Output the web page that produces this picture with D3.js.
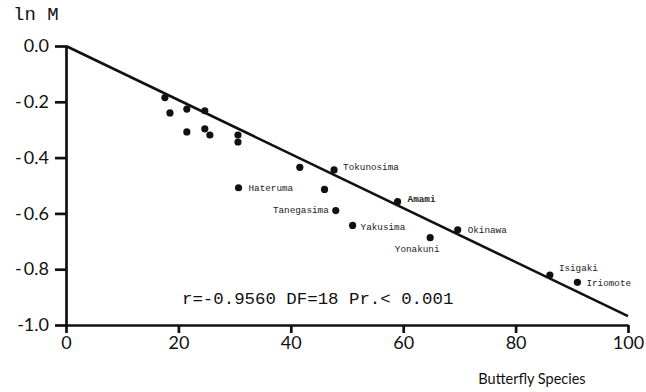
<!DOCTYPE html>
<html>
<head>
<meta charset="utf-8">
<script src="https://cdn.jsdelivr.net/npm/d3@7"></script>
<style>
  body { margin: 0; background: #fff; }
  svg { display: block; }
</style>
</head>
<body>
<svg></svg>
<script>
// data
const islands = ['', '', '', '', '', '', '', '', '', '', 'Tokunosima', 'Hateruma', '', 'Tanegasima', 'Yakusima', 'Amami', 'Yonakuni', 'Okinawa', 'Isigaki', 'Iriomote']
const species = [17.6, 18.5, 21.5, 21.5, 24.7, 24.7, 25.6, 30.6, 30.6, 41.6, 47.7, 30.7, 46.0, 48.0, 51.0, 59.0, 64.8, 69.7, 86.1, 91.0]
const lnM = [-0.185, -0.240, -0.226, -0.308, -0.232, -0.297, -0.319, -0.319, -0.344, -0.435, -0.444, -0.508, -0.514, -0.590, -0.643, -0.558, -0.687, -0.659, -0.821, -0.847]
const fitX = [0, 100]
const fitY = [0, -0.968]
const xTicks = [0, 20, 40, 60, 80, 100]
const yTicks = [0, -0.2, -0.4, -0.6, -0.8, -1.0]
const yTickLabels = ['0.0', '-\u20090.2', '-\u20090.4', '-\u20090.6', '-\u20090.8', '-1.0']
const statText = 'r=-0.9560 DF=18 Pr.< 0.001'

// label offsets next to the dot: [dx, dy, anchor]
const labelPos = {
    Tokunosima: [9, -3, 'start'],
    Hateruma: [10, 0, 'start'],
    Tanegasima: [-7, -1, 'end'],
    Yakusima: [8, 1, 'start'],
    Amami: [10, -3, 'start'],
    Yonakuni: [-13, 11, 'middle'],
    Okinawa: [10, 0, 'start'],
    Isigaki: [9, -7, 'start'],
    Iriomote: [9, 0, 'start']
}

const width = 646
const height = 392

let svg = d3.select('svg').attr('width', width).attr('height', height)

let xScale = d3.scaleLinear().domain([0, 100]).range([66, 628])
let yScale = d3.scaleLinear().domain([0, -1]).range([46, 325])

// axes
let xAxis = d3.axisBottom(xScale).tickValues(xTicks).tickSize(8).tickSizeOuter(0).tickPadding(2)
let yAxis = d3.axisLeft(yScale).tickValues(yTicks).tickSize(11).tickSizeOuter(0).tickPadding(6)
    .tickFormat((d, i) => yTickLabels[i])

let gx = svg.append('g')
    .attr('transform', 'translate(0,' + yScale(-1) + ')')
    .call(xAxis)
let gy = svg.append('g')
    .attr('transform', 'translate(' + xScale(0) + ',0)')
    .call(yAxis)

svg.selectAll('.domain, .tick line')
    .attr('stroke', '#111')
    .attr('stroke-width', 2.7)
svg.selectAll('.tick text')
    .attr('fill', '#111')
    .style('font-family', 'Lato, "DejaVu Sans", sans-serif')
    .style('font-size', '18px')
gx.selectAll('.tick text').attr('dy', '0.8em')

// regression line
svg.append('line')
    .attr('x1', xScale(fitX[0]))
    .attr('y1', yScale(fitY[0]))
    .attr('x2', xScale(fitX[1]))
    .attr('y2', yScale(fitY[1]))
    .attr('stroke', '#111')
    .attr('stroke-width', 2.6)

// points
svg.selectAll('circle')
    .data(species)
    .enter()
    .append('circle')
    .attr('cx', d => xScale(d))
    .attr('cy', (d, i) => yScale(lnM[i]))
    .attr('r', 3.6)
    .attr('fill', '#111')

// island names
svg.selectAll('text.island')
    .data(islands.map((n, i) => ({ name: n, x: species[i], y: lnM[i] })).filter(d => d.name))
    .enter()
    .append('text')
    .attr('class', 'island')
    .attr('x', d => xScale(d.x) + labelPos[d.name][0])
    .attr('y', d => yScale(d.y) + labelPos[d.name][1])
    .attr('dy', '0.35em')
    .attr('text-anchor', d => labelPos[d.name][2])
    .attr('fill', '#222')
    .style('font-family', '"Liberation Mono", "DejaVu Sans Mono", monospace')
    .style('font-size', '9.3px')
    .style('font-weight', d => d.name === 'Amami' ? 'bold' : 'normal')
    .text(d => d.name)

// axis titles
svg.append('text')
    .attr('x', 13)
    .attr('y', 20)
    .attr('fill', '#111')
    .style('font-family', '"Liberation Mono", "DejaVu Sans Mono", monospace')
    .style('font-size', '19px')
    .text('ln M')

svg.append('text')
    .attr('x', 532)
    .attr('y', 384)
    .attr('text-anchor', 'middle')
    .attr('fill', '#111')
    .style('font-family', 'Lato, "DejaVu Sans", sans-serif')
    .style('font-size', '14.5px')
    .text('Butterfly Species')

svg.append('text')
    .attr('x', 182)
    .attr('y', 304)
    .attr('fill', '#111')
    .style('font-family', '"Liberation Mono", "DejaVu Sans Mono", monospace')
    .style('font-size', '17.4px')
    .text(statText)
</script>
</body>
</html>
